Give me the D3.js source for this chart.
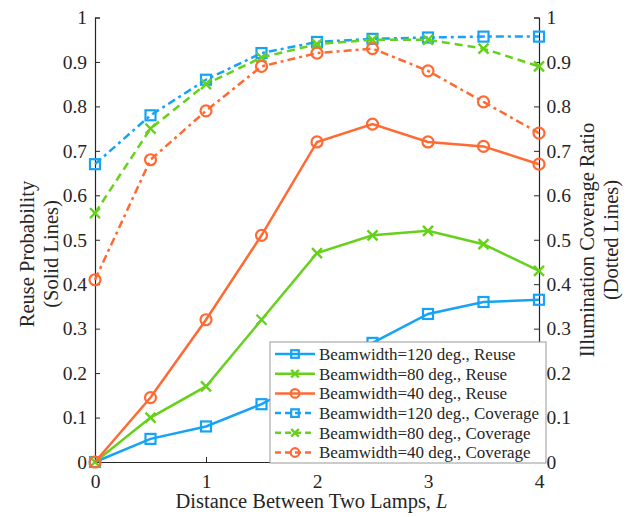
<!DOCTYPE html>
<html>
<head>
<meta charset="utf-8">
<script src="https://cdn.jsdelivr.net/npm/d3@7"></script>
<style>
  body { margin: 0; background: #fff; }
</style>
</head>
<body>
<script>
// distances
var distance = [0, 0.5, 1, 1.5, 2, 2.5, 3, 3.5, 4];

// reuse probability (solid lines, left axis)
var reuse120 = [0, 0.052, 0.08, 0.13, 0.195, 0.268, 0.333, 0.36, 0.365];
var reuse80  = [0, 0.10, 0.17, 0.32, 0.47, 0.51, 0.52, 0.49, 0.43];
var reuse40  = [0, 0.145, 0.32, 0.51, 0.72, 0.76, 0.72, 0.71, 0.67];

// illumination coverage ratio (dotted lines, right axis)
var cover120 = [0.67, 0.78, 0.86, 0.92, 0.945, 0.952, 0.955, 0.957, 0.957];
var cover80  = [0.56, 0.75, 0.85, 0.91, 0.94, 0.95, 0.95, 0.93, 0.89];
var cover40  = [0.41, 0.68, 0.79, 0.89, 0.92, 0.93, 0.88, 0.81, 0.74];

var xTicks = [0, 1, 2, 3, 4];
var yTicks = [0, 0.1, 0.2, 0.3, 0.4, 0.5, 0.6, 0.7, 0.8, 0.9, 1];

var blue = "#17a3f5", green = "#66d11a", orange = "#ff6a33";
var ink = "#262626";

var series = [
  { name: "Beamwidth=120 deg., Reuse", vals: reuse120, color: blue, marker: "square", dash: null, axis: "left" },
  { name: "Beamwidth=80 deg., Reuse", vals: reuse80, color: green, marker: "x", dash: null, axis: "left" },
  { name: "Beamwidth=40 deg., Reuse", vals: reuse40, color: orange, marker: "circle", dash: null, axis: "left" },
  { name: "Beamwidth=120 deg., Coverage", vals: cover120, color: blue, marker: "square", dash: "8,4,3,4", axis: "right" },
  { name: "Beamwidth=80 deg., Coverage", vals: cover80, color: green, marker: "x", dash: "8,5", axis: "right" },
  { name: "Beamwidth=40 deg., Coverage", vals: cover40, color: orange, marker: "circle", dash: "8,4,3,4", axis: "right" }
];

var w = 626, h = 517;
var mLeft = 95, mRight = 539, mTop = 17.5, mBottom = 462;

var xScale = d3.scaleLinear().domain([0, 4]).range([mLeft, mRight]);
var yLeft = d3.scaleLinear().domain([0, 1]).range([mBottom, mTop]);
var yRight = d3.scaleLinear().domain([0, 1]).range([mBottom, mTop]);

var svg = d3.select("body").append("svg")
  .attr("width", w)
  .attr("height", h);

// axes (ticks point inward)
var fmt = function(d) { return d === 0 || d === 1 ? d3.format("d")(d) : d3.format(".1f")(d); };

var gx = svg.append("g")
  .attr("transform", "translate(0," + mBottom + ")")
  .call(d3.axisTop(xScale).tickValues(xTicks).tickSize(5).tickFormat(d3.format("d")));
gx.selectAll("text").attr("y", 12).attr("dy", "0.71em");

var gl = svg.append("g")
  .attr("transform", "translate(" + mLeft + ",0)")
  .call(d3.axisRight(yLeft).tickValues(yTicks).tickSize(5).tickFormat(fmt));
gl.selectAll("text").attr("x", -8).attr("text-anchor", "end");

var gr = svg.append("g")
  .attr("transform", "translate(" + mRight + ",0)")
  .call(d3.axisLeft(yRight).tickValues(yTicks).tickSize(5).tickFormat(fmt));
gr.selectAll("text").attr("x", 7.5).attr("text-anchor", "start");

svg.selectAll(".domain").attr("stroke", ink).attr("stroke-width", 1.2);
svg.selectAll(".tick line").attr("stroke", ink);
svg.selectAll(".tick text").style("font-size", "19.5px").attr("fill", ink);

// lines and markers
var line = function(yS) {
  return d3.line()
    .x(function(d, i) { return xScale(distance[i]); })
    .y(function(d) { return yS(d); });
};

function drawMarker(g, type, color, x, y, r) {
  if (type === "square") {
    g.append("rect").attr("x", x - r).attr("y", y - r).attr("width", 2 * r).attr("height", 2 * r)
      .attr("fill", "none").attr("stroke", color).attr("stroke-width", 2.2);
  } else if (type === "circle") {
    g.append("circle").attr("cx", x).attr("cy", y).attr("r", r + 0.5)
      .attr("fill", "none").attr("stroke", color).attr("stroke-width", 2.2);
  } else {
    g.append("path").attr("d", "M" + (x - r) + "," + (y - r) + "L" + (x + r) + "," + (y + r) +
        "M" + (x - r) + "," + (y + r) + "L" + (x + r) + "," + (y - r))
      .attr("stroke", color).attr("stroke-width", 2.4);
  }
}

var plot = svg.append("g");
series.forEach(function(s) {
  var yS = s.axis === "left" ? yLeft : yRight;
  plot.append("path")
    .datum(s.vals)
    .attr("d", line(yS))
    .attr("fill", "none")
    .attr("stroke", s.color)
    .attr("stroke-width", 2.5)
    .attr("stroke-dasharray", s.dash);
  s.vals.forEach(function(v, i) {
    drawMarker(plot, s.marker, s.color, xScale(distance[i]), yS(v), 5);
  });
});

// legend
var lg = svg.append("g").attr("transform", "translate(270,342)");
lg.append("rect").attr("width", 276).attr("height", 121)
  .attr("fill", "#fff").attr("stroke", "#999").attr("stroke-width", 1);
series.forEach(function(s, i) {
  var y = 12 + i * 19.7;
  lg.append("line").attr("x1", 5).attr("x2", 45).attr("y1", y).attr("y2", y)
    .attr("stroke", s.color).attr("stroke-width", 2.5)
    .attr("stroke-dasharray", s.dash ? "6,4" : null);
  drawMarker(lg, s.marker, s.color, 25, y, 3.8);
  lg.append("text").attr("x", 49).attr("y", y).attr("dy", "0.35em")
    .style("font-size", "17px").attr("fill", ink).text(s.name);
});

// axis titles
var lt = svg.append("text")
  .attr("transform", "translate(27,254) rotate(-90)")
  .attr("text-anchor", "middle").style("font-size", "20.5px").attr("fill", ink);
lt.append("tspan").attr("x", 0).attr("dy", "0.35em").text("Reuse Probability");
lt.append("tspan").attr("x", 0).attr("dy", "1.15em").text("(Solid Lines)");

var rt = svg.append("text")
  .attr("transform", "translate(587,240) rotate(-90)")
  .attr("text-anchor", "middle").style("font-size", "20.5px").attr("fill", ink);
rt.append("tspan").attr("x", 0).attr("dy", "0.35em").text("Illumination Coverage Ratio");
rt.append("tspan").attr("x", 0).attr("dy", "1.15em").text("(Dotted Lines)");

var xt = svg.append("text")
  .attr("x", 311.5).attr("y", 508)
  .attr("text-anchor", "middle").style("font-size", "20.5px").attr("fill", ink);
xt.append("tspan").text("Distance Between Two Lamps, ");
xt.append("tspan").style("font-style", "italic").text("L");

// all text in a Times-like face
svg.selectAll("text").style("font-family", "Liberation Serif");
</script>
</body>
</html>
